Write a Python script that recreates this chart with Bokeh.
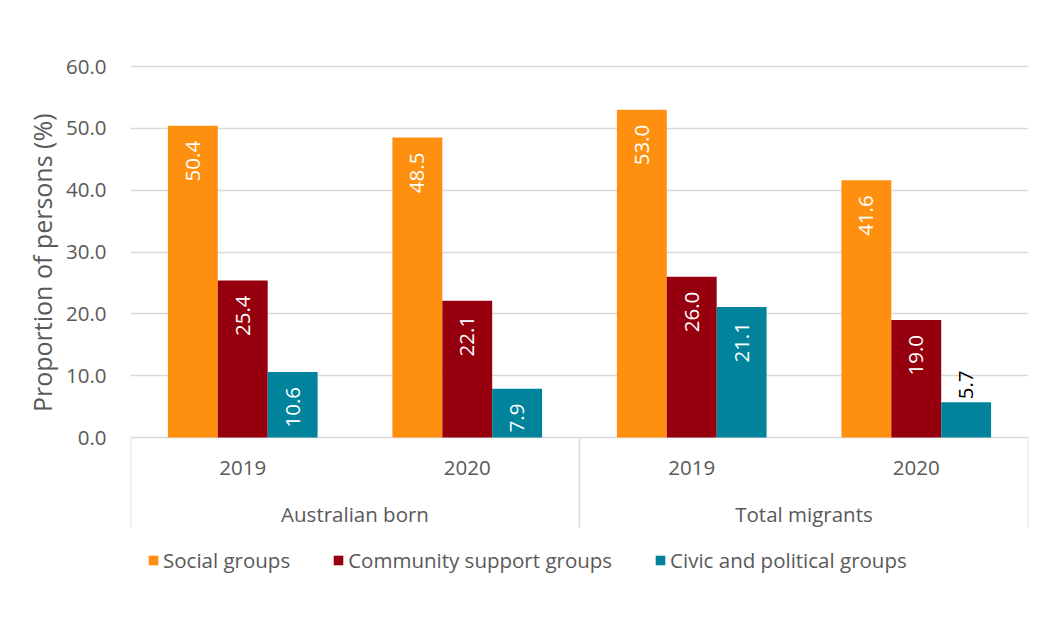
import math
from bokeh.plotting import figure
from bokeh.models import (FactorRange, ColumnDataSource, FixedTicker, PrintfTickFormatter,
                          Legend, LegendItem, Range1d, Title)
from bokeh.transform import dodge
from bokeh.core.properties import value
from bokeh.embed import file_html
from bokeh.resources import INLINE

# ---- data ----
groups = ["Australian born", "Total migrants"]
years = ["2019", "2020"]
series = ["Social groups", "Community support groups", "Civic and political groups"]
social = [50.4, 48.5, 53.0, 41.6]
community = [25.4, 22.1, 26.0, 19.0]
civic = [10.6, 7.9, 21.1, 5.7]
y_ticks = [0, 10, 20, 30, 40, 50, 60]
y_title = "Proportion of persons (%)"

# ---- styling ----
colors = ["#FE8F0F", "#96000E", "#00839B"]
FONT = "Open Sans"
FS = "20.5px"
GREY = "#595959"
GRID = "#d9d9d9"

factors = [(g, y) for g in groups for y in years]

PX_PER_UNIT = (437 - 66) / 60.0
y_start = -(600 - 437) / PX_PER_UNIT
y_end = 60 + 2 / PX_PER_UNIT

p = figure(width=1038, height=608,
           x_range=FactorRange(*factors, factor_padding=0, group_padding=0, range_padding=0),
           y_range=Range1d(y_start, y_end),
           output_backend="svg", toolbar_location=None, x_axis_location=None,
           min_border_left=130, min_border_right=10, min_border_top=64, min_border_bottom=8)
p.outline_line_color = None
p.xgrid.visible = False
p.ygrid.grid_line_color = GRID
p.ygrid.grid_line_width = 1.5

ax = p.yaxis[0]
ax.ticker = FixedTicker(ticks=y_ticks)
ax.formatter = PrintfTickFormatter(format="%.1f")
ax.axis_line_color = None
ax.major_tick_line_color = None
ax.minor_tick_line_color = None
ax.major_label_standoff = 18
ax.major_label_text_font = FONT
ax.major_label_text_font_size = FS
ax.major_label_text_color = GREY

# y-axis title, placed against the value area (top part of the frame)
p.add_layout(Title(text=y_title, align="right", offset=49, vertical_align="top", standoff=4,
                   text_font=FONT, text_font_size="25px", text_font_style="normal",
                   text_color=GREY), "left")

bar_w = 1 / 4.5
keys = ["social", "community", "civic"]
vals_all = [social, community, civic]
src = ColumnDataSource(dict(x=factors, social=social, community=community, civic=civic))

renderers = []
for i, (k, c) in enumerate(zip(keys, colors)):
    off = (i - 1) * bar_w
    r = p.vbar(x=dodge("x", off, range=p.x_range), top=k, width=bar_w, source=src,
               fill_color=c, line_color=None)
    renderers.append(r)

# data labels
for i, vals in enumerate(vals_all):
    off = (i - 1) * bar_w
    ins = [j for j, v in enumerate(vals) if v >= 7]
    outs = [j for j, v in enumerate(vals) if v < 7]
    s_in = ColumnDataSource(dict(x=[factors[j] for j in ins], y=[vals[j] for j in ins],
                                 t=[f"{vals[j]:.1f}" for j in ins]))
    p.text(x=dodge("x", off, range=p.x_range), y="y", text="t", source=s_in,
           angle=math.pi / 2, text_align="right", text_baseline="middle", y_offset=15,
           text_color="white", text_font=value(FONT), text_font_size=FS)
    if outs:
        s_out = ColumnDataSource(dict(x=[factors[j] for j in outs], y=[vals[j] for j in outs],
                                      t=[f"{vals[j]:.1f}" for j in outs]))
        p.text(x=dodge("x", off, range=p.x_range), y="y", text="t", source=s_out,
               angle=math.pi / 2, text_align="left", text_baseline="middle", y_offset=-3,
               text_color="black", text_font=value(FONT), text_font_size=FS)

# category axis labels
p.text(x=factors, y=[0] * len(factors), text=[f[1] for f in factors], y_offset=30,
       text_align="center", text_baseline="middle", text_color=GREY,
       text_font=value(FONT), text_font_size=FS)
p.text(x=groups, y=[0] * len(groups), text=groups, y_offset=76,
       text_align="center", text_baseline="middle", text_color=GREY,
       text_font=value(FONT), text_font_size=FS)

# separators between groups
bounds = [0]
for g in groups:
    bounds.append(bounds[-1] + len(years))
sep_len = 90 / PX_PER_UNIT
p.segment(x0=bounds, y0=[0] * len(bounds), x1=bounds, y1=[-sep_len] * len(bounds),
          line_color=GRID, line_width=1.5)

legend = Legend(items=[LegendItem(label=s, renderers=[r]) for s, r in zip(series, renderers)],
                orientation="horizontal", location=(17, 26), glyph_width=12, glyph_height=12,
                label_standoff=4, spacing=42, padding=0, margin=0, border_line_color=None,
                background_fill_alpha=0, label_text_font=FONT, label_text_font_size=FS,
                label_text_color=GREY, label_height=24)
p.add_layout(legend, "center")

open("out.html", "w").write(file_html(p, INLINE))
